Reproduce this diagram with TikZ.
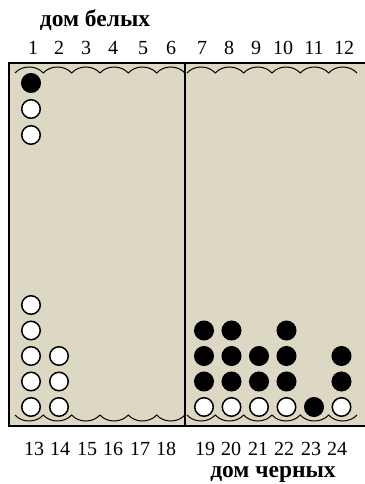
\documentclass[tikz,border=0pt]{standalone}
\usepackage{fontspec}
\setmainfont{Liberation Serif}
\definecolor{boardbg}{RGB}{221,216,196}

\begin{document}
\begin{tikzpicture}[x=1pt,y=-1pt,
  ptlabel/.style={font={\fontsize{20}{20}\selectfont}, anchor=base, inner sep=0pt},
  homelabel/.style={font={\fontsize{23.5}{23.5}\selectfont\bfseries}, anchor=base, inner sep=0pt},
  wpiece/.style={circle, draw=black, fill=white, line width=1.5pt, minimum size=18.5pt, inner sep=0pt},
  bpiece/.style={circle, draw=black, fill=black, line width=1.5pt, minimum size=18.5pt, inner sep=0pt}]
\useasboundingbox (0,0) rectangle (364,484);
% board
\fill[boardbg] (9,63) rectangle (370,426);
\draw[line width=1.8pt] (370,63) -- (9,63) -- (9,426) -- (370,426);
\draw[line width=1.4pt] (185,63) -- (185,426);
% scallops
\draw[line width=1pt] (15,73) .. controls (22,65) and (36,65) .. (43.3,73) .. controls (50.3,65) and (64.3,65) .. (71.7,73) .. controls (78.7,65) and (92.7,65) .. (100,73) .. controls (107,65) and (121,65) .. (128.3,73) .. controls (135.3,65) and (149.3,65) .. (156.7,73) .. controls (163.7,65) and (177.7,65) .. (185,73);
\draw[line width=1pt] (187,73) .. controls (194,65) and (208,65) .. (215.3,73) .. controls (222.3,65) and (236.3,65) .. (243.7,73) .. controls (250.7,65) and (264.7,65) .. (272,73) .. controls (279,65) and (293,65) .. (300.3,73) .. controls (307.3,65) and (321.3,65) .. (328.7,73) .. controls (335.7,65) and (349.7,65) .. (357,73);
\draw[line width=1pt] (15,415) .. controls (22,423) and (36,423) .. (43.3,415) .. controls (50.3,423) and (64.3,423) .. (71.7,415) .. controls (78.7,423) and (92.7,423) .. (100,415) .. controls (107,423) and (121,423) .. (128.3,415) .. controls (135.3,423) and (149.3,423) .. (156.7,415) .. controls (163.7,423) and (177.7,423) .. (185,415);
\draw[line width=1pt] (187,415) .. controls (194,423) and (208,423) .. (215.3,415) .. controls (222.3,423) and (236.3,423) .. (243.7,415) .. controls (250.7,423) and (264.7,423) .. (272,415) .. controls (279,423) and (293,423) .. (300.3,415) .. controls (307.3,423) and (321.3,423) .. (328.7,415) .. controls (335.7,423) and (349.7,423) .. (357,415);
% labels
\node[homelabel] (whitehome) at (95,27) {дом белых};
\node[homelabel] (blackhome) at (273,477) {дом черных};
\node[ptlabel] (p1) at (33,55) {1};
\node[ptlabel] (p2) at (59,55) {2};
\node[ptlabel] (p3) at (86,55) {3};
\node[ptlabel] (p4) at (113,55) {4};
\node[ptlabel] (p5) at (143,55) {5};
\node[ptlabel] (p6) at (171,55) {6};
\node[ptlabel] (p7) at (202,55) {7};
\node[ptlabel] (p8) at (229,55) {8};
\node[ptlabel] (p9) at (256,55) {9};
\node[ptlabel] (p10) at (283,55) {10};
\node[ptlabel] (p11) at (314,55) {11};
\node[ptlabel] (p12) at (344,55) {12};
\node[ptlabel] (p13) at (34,455) {13};
\node[ptlabel] (p14) at (60,455) {14};
\node[ptlabel] (p15) at (87,455) {15};
\node[ptlabel] (p16) at (113,455) {16};
\node[ptlabel] (p17) at (140,455) {17};
\node[ptlabel] (p18) at (166,455) {18};
\node[ptlabel] (p19) at (205,455) {19};
\node[ptlabel] (p20) at (231,455) {20};
\node[ptlabel] (p21) at (258,455) {21};
\node[ptlabel] (p22) at (284,455) {22};
\node[ptlabel] (p23) at (311,455) {23};
\node[ptlabel] (p24) at (337,455) {24};
% checkers on point 1
\node[bpiece] (c1a) at (31,83) {};
\node[wpiece] (c1b) at (31,109) {};
\node[wpiece] (c1c) at (31,135) {};
% checkers on points 13 and 14
\node[wpiece] (c13a) at (31,407) {};
\node[wpiece] (c13b) at (31,381.5) {};
\node[wpiece] (c13c) at (31,356) {};
\node[wpiece] (c13d) at (31,330.5) {};
\node[wpiece] (c13e) at (31,305) {};
\node[wpiece] (c14a) at (59,407) {};
\node[wpiece] (c14b) at (59,381.5) {};
\node[wpiece] (c14c) at (59,356) {};
% checkers on points 19 to 24
\node[wpiece] (c19a) at (204,407) {};
\node[bpiece] (c19b) at (204,381.5) {};
\node[bpiece] (c19c) at (204,356) {};
\node[bpiece] (c19d) at (204,330.5) {};
\node[wpiece] (c20a) at (231.5,407) {};
\node[bpiece] (c20b) at (231.5,381.5) {};
\node[bpiece] (c20c) at (231.5,356) {};
\node[bpiece] (c20d) at (231.5,330.5) {};
\node[wpiece] (c21a) at (259,407) {};
\node[bpiece] (c21b) at (259,381.5) {};
\node[bpiece] (c21c) at (259,356) {};
\node[wpiece] (c22a) at (286.5,407) {};
\node[bpiece] (c22b) at (286.5,381.5) {};
\node[bpiece] (c22c) at (286.5,356) {};
\node[bpiece] (c22d) at (286.5,330.5) {};
\node[bpiece] (c23a) at (314,407) {};
\node[wpiece] (c24a) at (341.5,407) {};
\node[bpiece] (c24b) at (341.5,381.5) {};
\node[bpiece] (c24c) at (341.5,356) {};
\end{tikzpicture}
\end{document}
